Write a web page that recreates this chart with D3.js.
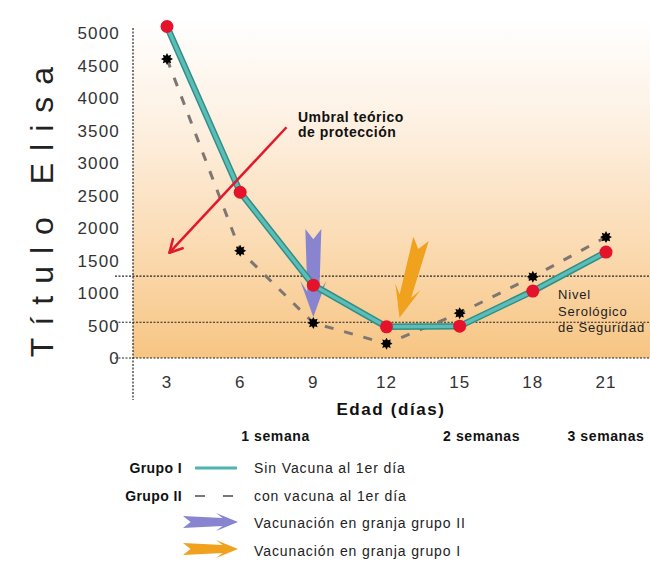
<!DOCTYPE html>
<html>
<head>
<meta charset="utf-8">
<script src="https://cdn.jsdelivr.net/npm/d3@7"></script>
<style>
body { margin: 0; background: #fff; }
svg { display: block; font-family: "Liberation Sans", Arial, Helvetica, sans-serif; }
</style>
</head>
<body>
<svg id="chart" width="650" height="562"></svg>
<script>
// datos
var dias = [3, 6, 9, 12, 15, 18, 21];
var grupoI = [5100, 2550, 1120, 480, 490, 1030, 1630];
var grupoII = [4600, 1650, 540, 220, 690, 1250, 1860];
var yTicks = [0, 500, 1000, 1500, 2000, 2500, 3000, 3500, 4000, 4500, 5000];
var nivelSeguridad = [550, 1260];
var semanas = ['1 semana', '2 semanas', '3 semanas'];
var semanasDia = [7.45, 15.9, 21];
var leyenda = ['Sin Vacuna al 1er día', 'con vacuna al 1er día', 'Vacunación en granja grupo II', 'Vacunación en granja grupo I'];

var svg = d3.select('#chart');

var x = d3.scaleLinear().domain([3, 21]).range([167, 606]);
var y = d3.scaleLinear().domain([0, 5000]).range([358, 33]);

var axisX = 133;

// fondo degradado
var defs = svg.append('defs');
var grad = defs.append('linearGradient')
    .attr('id', 'fondo')
    .attr('x1', '0%').attr('y1', '0%')
    .attr('x2', '0%').attr('y2', '100%');
grad.append('stop').attr('offset', '0%').attr('stop-color', '#ffffff');
grad.append('stop').attr('offset', '30%').attr('stop-color', '#fdf1e3');
grad.append('stop').attr('offset', '65%').attr('stop-color', '#fbdcb5');
grad.append('stop').attr('offset', '100%').attr('stop-color', '#f7c583');

svg.append('rect')
    .attr('x', axisX)
    .attr('y', 18)
    .attr('width', 650 - axisX)
    .attr('height', y(0) - 18)
    .attr('fill', 'url(#fondo)');

// lineas punteadas (nivel serologico y cero)
svg.selectAll('.ref')
    .data([0].concat(nivelSeguridad))
    .enter()
    .append('line')
    .attr('x1', 115)
    .attr('x2', 650)
    .attr('y1', function (d) { return y(d); })
    .attr('y2', function (d) { return y(d); })
    .attr('stroke', '#222')
    .attr('stroke-width', 1.2)
    .attr('stroke-dasharray', '2,1.5');

// eje vertical
svg.append('line')
    .attr('x1', axisX).attr('x2', axisX)
    .attr('y1', 28).attr('y2', 400)
    .attr('stroke', '#222')
    .attr('stroke-width', 1.2)
    .attr('stroke-dasharray', '2,1.5');

// etiquetas eje y
svg.selectAll('.ytick')
    .data(yTicks)
    .enter()
    .append('text')
    .attr('x', 120)
    .attr('y', function (d) { return y(d) + 6; })
    .attr('text-anchor', 'end')
    .attr('font-size', 17)
    .attr('letter-spacing', 1.2)
    .attr('fill', '#333')
    .text(function (d) { return d; });

// etiquetas eje x
svg.selectAll('.xtick')
    .data(dias)
    .enter()
    .append('text')
    .attr('x', function (d) { return x(d); })
    .attr('y', 388)
    .attr('text-anchor', 'middle')
    .attr('font-size', 17)
    .attr('letter-spacing', 1)
    .attr('fill', '#333')
    .text(function (d) { return d; });

svg.append('text')
    .attr('x', 391)
    .attr('y', 415)
    .attr('text-anchor', 'middle')
    .attr('font-size', 17)
    .attr('font-weight', 'bold')
    .attr('letter-spacing', 1.6)
    .attr('fill', '#111')
    .text('Edad (días)');

svg.selectAll('.semana')
    .data(semanas)
    .enter()
    .append('text')
    .attr('x', function (d, i) { return x(semanasDia[i]); })
    .attr('y', 441)
    .attr('text-anchor', 'middle')
    .attr('font-size', 14)
    .attr('font-weight', 'bold')
    .attr('letter-spacing', 0.6)
    .attr('fill', '#111')
    .text(function (d) { return d; });

// titulo eje y
svg.append('text')
    .attr('transform', 'translate(53,206) rotate(-90)')
    .attr('text-anchor', 'middle')
    .attr('font-size', 32)
    .attr('letter-spacing', 12)
    .attr('fill', '#222')
    .text('Título Elisa');

// flecha de vacunacion (forma con cola en V)
function flecha(g, x0, y0, x1, y1, w, h, hl, fill) {
    var L = Math.hypot(x1 - x0, y1 - y0);
    var ang = Math.atan2(y1 - y0, x1 - x0) * 180 / Math.PI;
    var p = d3.path();
    p.moveTo(-2, -w - 2);
    p.lineTo(L - hl * 0.7, -w);
    p.lineTo(L - hl, -h);
    p.lineTo(L, 0);
    p.lineTo(L - hl, h);
    p.lineTo(L - hl * 0.7, w);
    p.lineTo(-2, w + 2);
    p.lineTo(w * 1.4, 0);
    p.closePath();
    g.append('path')
        .attr('d', p.toString())
        .attr('transform', 'translate(' + x0 + ',' + y0 + ') rotate(' + ang + ')')
        .attr('fill', fill);
}

var flechas = svg.append('g');
var morado = '#8884cf';
var naranja = '#f0a11e';

// grupo II: dia 9
flecha(flechas, x(9), y(grupoII[2]) - 92, x(9), y(grupoII[2]) - 6, 6, 13, 36, morado);
// grupo I: dia 12
flecha(flechas, x(12) + 34, y(grupoI[3]) - 86, x(12) + 13, y(grupoI[3]) - 9, 6, 13, 32, naranja);

// linea grupo II (discontinua)
var linea = d3.line()
    .x(function (d, i) { return x(dias[i]); })
    .y(function (d) { return y(d); });

svg.append('path')
    .attr('d', linea(grupoII))
    .attr('fill', 'none')
    .attr('stroke', '#7d7672')
    .attr('stroke-width', 3)
    .attr('stroke-dasharray', '9,11');

// linea grupo I
svg.append('path')
    .attr('d', linea(grupoI))
    .attr('fill', 'none')
    .attr('stroke', '#2f8f86')
    .attr('stroke-width', 6.5)
    .attr('stroke-linejoin', 'round');
svg.append('path')
    .attr('d', linea(grupoI))
    .attr('fill', 'none')
    .attr('stroke', '#5cbdb8')
    .attr('stroke-width', 3.5)
    .attr('stroke-linejoin', 'round');

// estrellas grupo II
function estrella(r1, r2, n) {
    var pts = [];
    for (var k = 0; k < n * 2; k++) {
        var a = Math.PI * k / n;
        var r = k % 2 === 0 ? r1 : r2;
        pts.push([Math.cos(a) * r, Math.sin(a) * r]);
    }
    return 'M' + pts.join('L') + 'Z';
}

svg.selectAll('.estrella')
    .data(grupoII)
    .enter()
    .append('path')
    .attr('d', estrella(6, 3.6, 8))
    .attr('transform', function (d, i) { return 'translate(' + x(dias[i]) + ',' + y(d) + ')'; })
    .attr('fill', '#000');

// puntos grupo I
svg.selectAll('.punto')
    .data(grupoI)
    .enter()
    .append('circle')
    .attr('cx', function (d, i) { return x(dias[i]); })
    .attr('cy', function (d) { return y(d); })
    .attr('r', 6.5)
    .attr('fill', '#e5122c');

// umbral teorico de proteccion
var rojo = '#e0192d';
var ux0 = x(7.9), uy0 = y(3550), ux1 = x(3.1), uy1 = y(1620);
svg.append('line')
    .attr('x1', ux0).attr('y1', uy0)
    .attr('x2', ux1).attr('y2', uy1)
    .attr('stroke', rojo)
    .attr('stroke-width', 2.5);
var ua = Math.atan2(uy1 - uy0, ux1 - ux0);
[0.5, -0.5].forEach(function (da) {
    svg.append('line')
        .attr('x1', ux1).attr('y1', uy1)
        .attr('x2', ux1 - Math.cos(ua + da) * 14)
        .attr('y2', uy1 - Math.sin(ua + da) * 14)
        .attr('stroke', rojo)
        .attr('stroke-width', 2.5)
        .attr('stroke-linecap', 'round');
});

svg.append('text')
    .attr('x', 298)
    .attr('y', 122)
    .attr('font-size', 14)
    .attr('font-weight', 'bold')
    .attr('letter-spacing', 0.5)
    .attr('fill', '#111')
    .selectAll('tspan')
    .data(['Umbral teórico', 'de protección'])
    .enter()
    .append('tspan')
    .attr('x', 298)
    .attr('dy', function (d, i) { return i === 0 ? 0 : 15; })
    .text(function (d) { return d; });

// nivel serologico de seguridad
svg.append('text')
    .attr('font-size', 13)
    .attr('letter-spacing', 0.8)
    .attr('fill', '#222')
    .selectAll('tspan')
    .data(['Nivel', 'Serológico', 'de Seguridad'])
    .enter()
    .append('tspan')
    .attr('x', 558)
    .attr('y', function (d, i) { return [299, 316, 332][i]; })
    .text(function (d) { return d; });

// leyenda
var leg = svg.append('g');

leg.append('text')
    .attr('x', 182).attr('y', 473)
    .attr('text-anchor', 'end')
    .attr('font-size', 14).attr('font-weight', 'bold')
    .attr('letter-spacing', 0.4)
    .attr('fill', '#111')
    .text('Grupo I');
leg.append('text')
    .attr('x', 182).attr('y', 501)
    .attr('text-anchor', 'end')
    .attr('font-size', 14).attr('font-weight', 'bold')
    .attr('letter-spacing', 0.4)
    .attr('fill', '#111')
    .text('Grupo II');

leg.append('line')
    .attr('x1', 195).attr('x2', 237)
    .attr('y1', 468).attr('y2', 468)
    .attr('stroke', '#4fb3ae')
    .attr('stroke-width', 3);
leg.append('line')
    .attr('x1', 195).attr('x2', 237)
    .attr('y1', 496).attr('y2', 496)
    .attr('stroke', '#7d7672')
    .attr('stroke-width', 2)
    .attr('stroke-dasharray', '10,18');

flecha(leg, 185, 522, 238, 522, 4, 9, 22, morado);
flecha(leg, 185, 549, 238, 549, 4, 9, 22, naranja);

leg.selectAll('.ltext')
    .data(leyenda)
    .enter()
    .append('text')
    .attr('x', 254)
    .attr('y', function (d, i) { return [473, 501, 528, 556][i]; })
    .attr('font-size', 14)
    .attr('letter-spacing', 0.9)
    .attr('fill', '#222')
    .text(function (d) { return d; });
</script>
</body>
</html>
